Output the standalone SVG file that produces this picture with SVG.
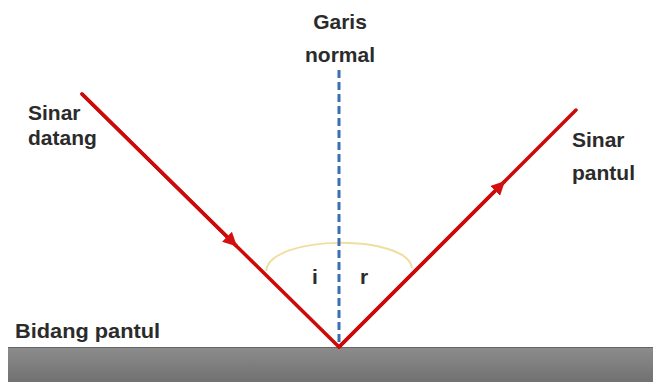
<svg xmlns="http://www.w3.org/2000/svg" width="653" height="382" viewBox="0 0 653 382">
<defs>
<linearGradient id="gnd" x1="0" y1="0" x2="0" y2="1">
<stop offset="0" stop-color="#8c8c8c"/>
<stop offset="1" stop-color="#717171"/>
</linearGradient>
<marker id="arr" viewBox="0 0 10 10" refX="9" refY="5" markerWidth="4" markerHeight="4" orient="auto" markerUnits="strokeWidth">
<path d="M0,0 L10,5 L0,10 z" fill="#d40f0f"/>
</marker>
</defs>
<style>
.t{font-family:"Liberation Sans",Arial,sans-serif;font-weight:bold;font-size:21px;fill:#2b2b2b}
.ray{stroke:#cc0a0a;stroke-width:3.5;fill:none;stroke-linecap:round}
</style>
<rect width="653" height="382" fill="#ffffff"/>
<g id="bidang-pantul">
<rect x="8" y="347" width="645" height="35" fill="url(#gnd)"/>
<line x1="8" y1="347.5" x2="653" y2="347.5" stroke="#666" stroke-width="1"/>
<text class="t" x="15" y="338" font-size="22" textLength="145" lengthAdjust="spacingAndGlyphs">Bidang pantul</text>
</g>
<g id="angle-arc">
<path d="M266,271 C270,234 408,234 412,268" fill="none" stroke="#efdf9f" stroke-width="2"/>
<text class="t" x="315" y="284" text-anchor="middle" font-size="18">i</text>
<text class="t" x="364" y="284" text-anchor="middle" font-size="18">r</text>
</g>
<g id="garis-normal">
<line x1="339" y1="70" x2="339" y2="345" stroke="#3d6db3" stroke-width="3" stroke-dasharray="8 4"/>
<text class="t" x="340" y="29" text-anchor="middle">Garis</text>
<text class="t" x="340" y="62" text-anchor="middle">normal</text>
</g>
<g id="connectors">
<line class="ray" x1="82" y1="94" x2="339" y2="347"/>
<line class="ray" x1="339" y1="347" x2="576" y2="110"/>
<path d="M82,94 L236,245.6" class="ray" marker-end="url(#arr)"/>
<path d="M339,347 L504,182" class="ray" marker-end="url(#arr)"/>
</g>
<g id="sinar-datang">
<text class="t" x="28" y="120">Sinar</text>
<text class="t" x="28" y="145">datang</text>
</g>
<g id="sinar-pantul">
<text class="t" x="572" y="147">Sinar</text>
<text class="t" x="572" y="180">pantul</text>
</g>
</svg>
